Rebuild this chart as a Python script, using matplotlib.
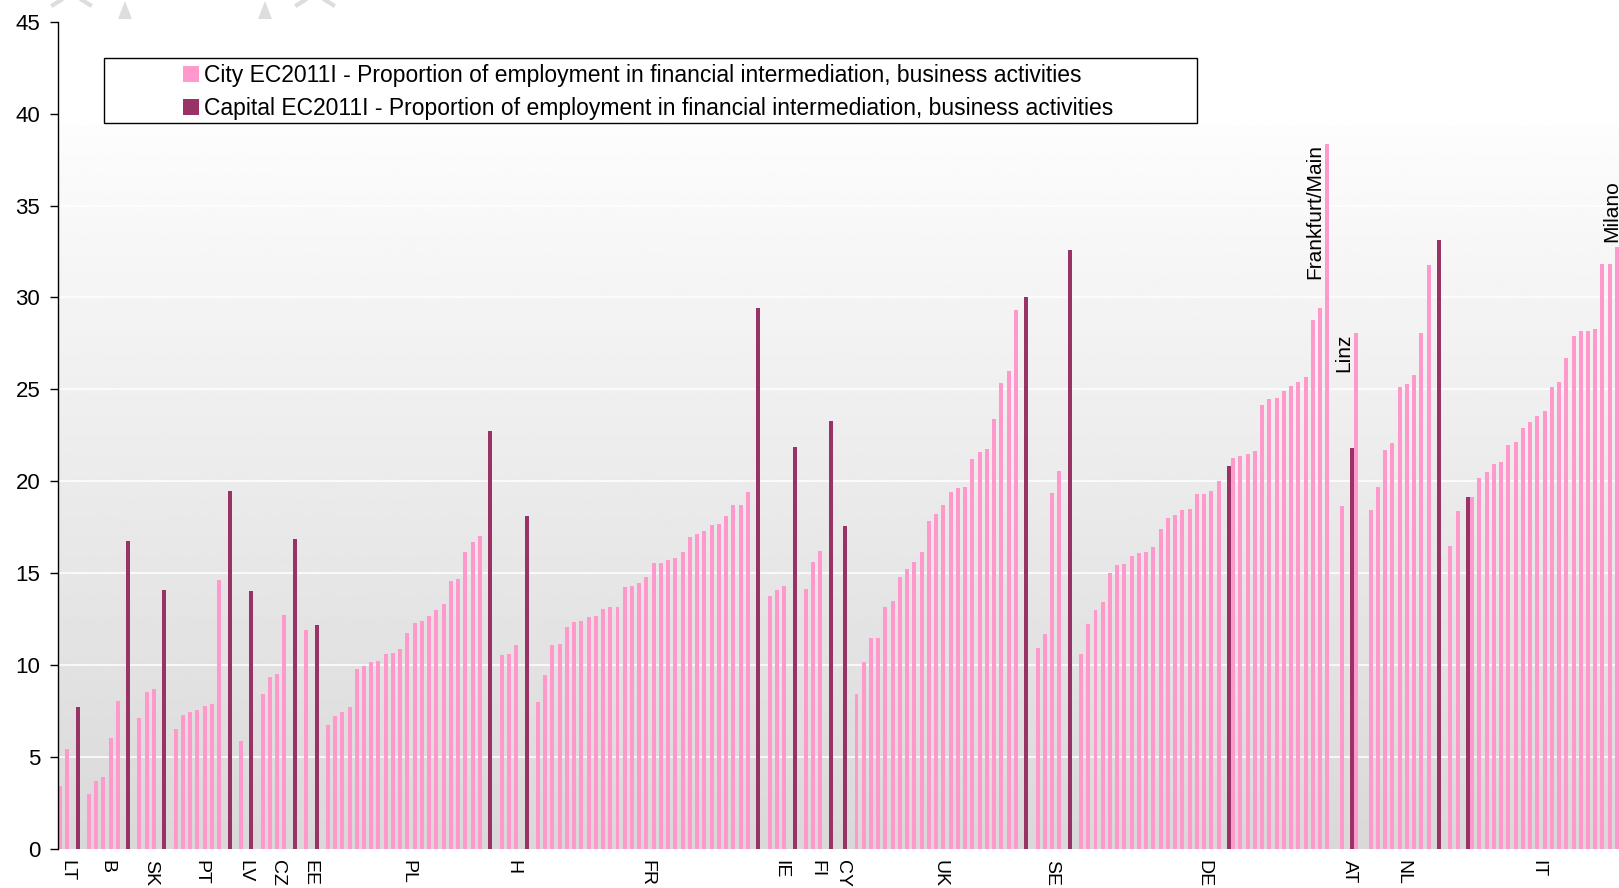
import numpy as np
import matplotlib
matplotlib.use("Agg")
import matplotlib.pyplot as plt
from matplotlib.patches import Patch, Rectangle, Polygon
from matplotlib.lines import Line2D

plt.rcParams['font.family'] = ['Liberation Sans', 'DejaVu Sans']

# valeurs par pays, triees; la capitale est incluse a son rang
countries = ['LT', 'B', 'SK', 'PT', 'LV', 'CZ', 'EE', 'PL', 'H', 'FR',
             'IE', 'FI', 'CY', 'UK', 'SE', 'DE', 'AT', 'NL', 'IT']

lt = [3.4, 5.45, 7.7]
b = [3.0, 3.7, 3.9, 6.05, 8.05, 16.75]
sk = [7.15, 8.55, 8.7, 14.1]
pt = [6.55, 7.3, 7.45, 7.55, 7.8, 7.9, 14.65, 19.45]
lv = [5.85, 14.05]
cz = [8.45, 9.35, 9.5, 12.75, 16.85]
ee = [11.9, 12.2]
pl = [6.75, 7.25, 7.45, 7.75, 9.8, 9.95, 10.15, 10.2, 10.6, 10.65, 10.9, 11.75,
      12.3, 12.4, 12.65, 13.0, 13.35, 14.6, 14.7, 16.15, 16.7, 17.0, 22.75]
hu = [10.55, 10.6, 11.1, 18.1]
fr = [8.0, 9.45, 11.1, 11.15, 12.1, 12.35, 12.4, 12.6, 12.65, 13.05, 13.15, 13.15,
      14.25, 14.3, 14.45, 14.8, 15.55, 15.55, 15.7, 15.85, 16.15, 16.95, 17.15,
      17.3, 17.65, 17.7, 18.1, 18.7, 18.7, 19.4, 29.4]
ie = [13.75, 14.1, 14.3, 21.85]
fi = [14.15, 15.6, 16.2, 23.3]
cy = [17.55]
uk = [8.45, 10.15, 11.5, 11.5, 13.15, 13.5, 14.8, 15.25, 15.6, 16.15, 17.85, 18.2,
      18.7, 19.4, 19.65, 19.7, 21.2, 21.6, 21.75, 23.4, 25.35, 26.0, 29.3, 30.0]
se = [10.95, 11.7, 19.35, 20.55, 32.6]
de = [10.6, 12.25, 13.0, 13.45, 15.0, 15.45, 15.5, 15.95, 16.1, 16.15, 16.45, 17.4,
      18.0, 18.15, 18.45, 18.5, 19.3, 19.3, 19.5, 20.0, 20.85, 21.25, 21.35, 21.5,
      21.65, 24.15, 24.5, 24.55, 24.9, 25.2, 25.4, 25.7, 28.8, 29.45, 38.35]
at = [18.65, 21.8, 28.05]
nl = [18.45, 19.7, 21.7, 22.1, 25.15, 25.3, 25.8, 28.05, 31.75, 33.1]
it = [16.5, 18.4, 19.15, 19.15, 20.2, 20.5, 20.95, 21.05, 22.0, 22.15, 22.9, 23.25,
      23.55, 23.85, 25.15, 25.4, 26.7, 27.9, 28.2, 28.2, 28.3, 31.8, 31.8, 32.75, 36.4]

groups = [lt, b, sk, pt, lv, cz, ee, pl, hu, fr, ie, fi, cy, uk, se, de, at, nl, it]
capital_rank = [2, 5, 3, 7, 1, 4, 1, 22, 3, 30, 3, 3, 0, 23, 4, 20, 1, 9, 2]

annot_names = ['Frankfurt/Main', 'Linz', 'Milano']
annot_country = ['DE', 'AT', 'IT']
annot_rank = [34, 2, 24]

city_label = 'City EC2011I - Proportion of employment in financial intermediation, business activities'
capital_label = 'Capital EC2011I - Proportion of employment in financial intermediation, business activities'

PINK = '#ff99cc'
PLUM = '#993366'

# positions: une case par ville, une case vide entre pays
city_x, city_v, cap_x, cap_v = [], [], [], []
centers = []
bar_pos = {}
slot = 0
for code, vals, cap in zip(countries, groups, capital_rank):
    start = slot
    for j, v in enumerate(vals):
        if j == cap:
            cap_x.append(slot + 0.45)
            cap_v.append(v)
        else:
            city_x.append(slot)
            city_v.append(v)
        bar_pos[(code, j)] = slot + (0.45 if j == cap else 0.0)
        slot += 1
    centers.append(start + (len(vals) - 1) / 2)
    slot += 1

W, H = 1619, 888
fig = plt.figure(figsize=(W / 100, H / 100), dpi=100)
ax = fig.add_axes([57.5 / W, 39 / H, 1 - 57.5 / W, (849 - 21.7) / H])

x0, x1 = -0.32, 215.28
ymax_bg = 39.35

# fond en degrade
grad = np.linspace(0.99, 0.85, 256).reshape(-1, 1)
ax.imshow(grad, cmap='gray', vmin=0, vmax=1, extent=[x0, x1, 0, ymax_bg],
          aspect='auto', zorder=0, interpolation='bilinear')

for yv in range(5, 40, 5):
    ax.axhline(yv, color='white', lw=1.1, zorder=1)

ax.bar(city_x, city_v, width=0.55, color=PINK, zorder=2)
ax.bar(cap_x, cap_v, width=0.55, color=PLUM, zorder=3)

for name, code, rank in zip(annot_names, annot_country, annot_rank):
    gi = countries.index(code)
    xv = bar_pos[(code, rank)]
    yv = groups[gi][rank]
    ax.text(xv - 0.38, yv, name, rotation=90, ha='right', va='top',
            fontsize=15, zorder=4, clip_on=False)

ax.set_xlim(x0, x1)
ax.set_ylim(0, 45)
ax.set_yticks(range(0, 50, 5))
ax.tick_params(axis='y', labelsize=16, length=5.5, width=1, pad=7, direction='out')
ax.set_xticks(centers)
ax.set_xticklabels(countries, rotation=270, fontsize=14, ha='center', va='top')
ax.tick_params(axis='x', length=0, pad=8)
for s in ['top', 'right', 'bottom']:
    ax.spines[s].set_visible(False)
ax.spines['left'].set_linewidth(1)
ax.set_facecolor('white')

# cadre de la legende
fig.add_artist(Rectangle((104 / W, 1 - 123 / H), (1197 - 104) / W, (123 - 58) / H,
                         transform=fig.transFigure, facecolor='white',
                         edgecolor='black', lw=1, zorder=5))
handles = [Patch(facecolor=PINK, edgecolor='none'), Patch(facecolor=PLUM, edgecolor='none')]
leg = fig.legend(handles, [city_label, capital_label], loc='upper left',
                 bbox_to_anchor=(183 / W, 1 - 64 / H), frameon=False, fontsize=16.5,
                 borderpad=0, borderaxespad=0, handlelength=0.68, handleheight=0.68,
                 handletextpad=0.25, labelspacing=0.45)
leg.set_zorder(6)

# restes du logo en haut
grey = '#dddddd'
for xa, xb in [(118, 132), (258, 272)]:
    fig.add_artist(Polygon([[xa / W, 1 - 19 / H], [xb / W, 1 - 19 / H],
                            [(xa + xb) / 2 / W, 1 - 1 / H]],
                           transform=fig.transFigure, facecolor=grey, edgecolor='none'))
for xa, xb in [(53, 90), (297, 333)]:
    fig.add_artist(Line2D([xa / W, (xa + 8) / W], [1 - 5 / H, 1 - 0 / H],
                          transform=fig.transFigure, color=grey, lw=3))
    fig.add_artist(Line2D([xb / W, (xb - 8) / W], [1 - 5 / H, 1 - 0 / H],
                          transform=fig.transFigure, color=grey, lw=3))

fig.savefig('out.png', dpi=100)
